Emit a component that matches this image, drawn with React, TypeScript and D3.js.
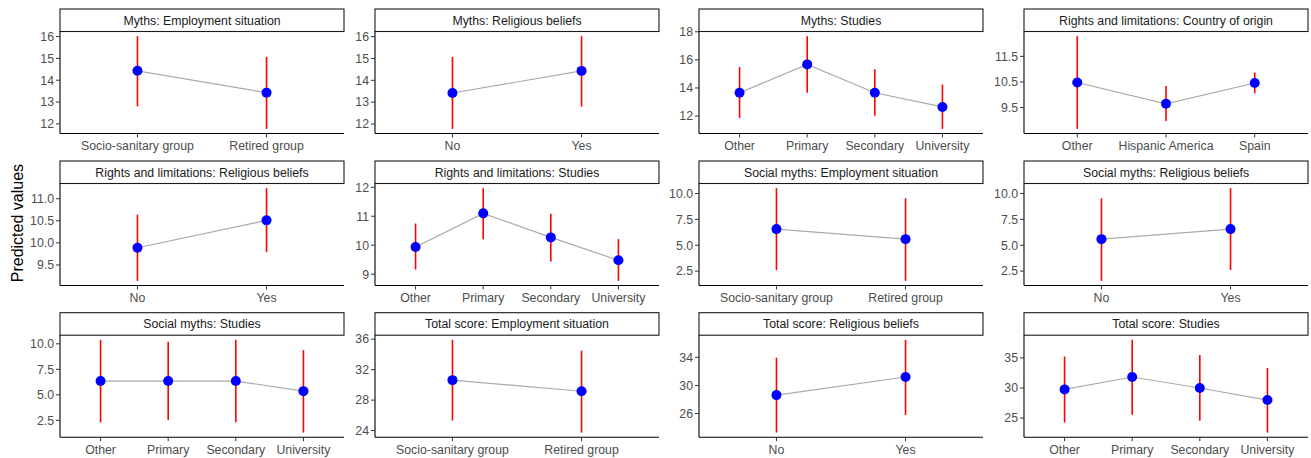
import React from 'react';
import * as d3 from 'd3';

// categories
const employmentCats = ['Socio-sanitary group', 'Retired group'];
const religiousCats = ['No', 'Yes'];
const studiesCats = ['Other', 'Primary', 'Secondary', 'University'];
const originCats = ['Other', 'Hispanic America', 'Spain'];

// predicted values with lower / upper limits
const mythsEmpFit = [14.43, 13.43];
const mythsEmpLow = [12.80, 11.77];
const mythsEmpHigh = [16.02, 15.07];

const mythsRelFit = [13.42, 14.43];
const mythsRelLow = [11.78, 12.80];
const mythsRelHigh = [15.07, 16.02];

const mythsStuFit = [13.66, 15.68, 13.66, 12.65];
const mythsStuLow = [11.86, 13.66, 12.03, 11.09];
const mythsStuHigh = [15.48, 17.69, 15.34, 14.24];

const rightsOriFit = [10.48, 9.65, 10.46];
const rightsOriLow = [8.67, 8.98, 10.06];
const rightsOriHigh = [12.29, 10.34, 10.87];

const rightsRelFit = [9.89, 10.51];
const rightsRelLow = [9.14, 9.79];
const rightsRelHigh = [10.64, 11.24];

const rightsStuFit = [9.94, 11.10, 10.27, 9.48];
const rightsStuLow = [9.16, 10.21, 9.44, 8.77];
const rightsStuHigh = [10.75, 11.97, 11.09, 10.21];

const socialEmpFit = [6.56, 5.59];
const socialEmpLow = [2.60, 1.56];
const socialEmpHigh = [10.52, 9.54];

const socialRelFit = [5.59, 6.56];
const socialRelLow = [1.56, 2.60];
const socialRelHigh = [9.54, 10.52];

const socialStuFit = [6.35, 6.35, 6.35, 5.36];
const socialStuLow = [2.30, 2.54, 2.30, 1.30];
const socialStuHigh = [10.39, 10.20, 10.39, 9.38];

const totalEmpFit = [30.62, 29.16];
const totalEmpLow = [25.32, 23.74];
const totalEmpHigh = [35.91, 34.50];

const totalRelFit = [28.62, 31.20];
const totalRelLow = [23.29, 25.80];
const totalRelHigh = [33.96, 36.49];

const totalStuFit = [29.77, 31.83, 30.00, 28.00];
const totalStuLow = [24.27, 25.56, 24.55, 22.60];
const totalStuHigh = [35.22, 38.00, 35.50, 33.33];

// y tick labels per panel
const ticksMyths16 = [12, 13, 14, 15, 16];
const ticksMythsStu = [12, 14, 16, 18];
const ticksOrigin = [9.5, 10.5, 11.5];
const ticksRightsRel = [9.5, 10.0, 10.5, 11.0];
const ticksRightsStu = [9, 10, 11, 12];
const ticksSocial = [2.5, 5.0, 7.5, 10.0];
const ticksTotalEmp = [24, 28, 32, 36];
const ticksTotalRel = [26, 30, 34];
const ticksTotalStu = [25, 30, 35];

const panels = [
  { title: 'Myths: Employment situation', cats: employmentCats, fit: mythsEmpFit, low: mythsEmpLow, high: mythsEmpHigh, ticks: ticksMyths16, fmt: 'd' },
  { title: 'Myths: Religious beliefs', cats: religiousCats, fit: mythsRelFit, low: mythsRelLow, high: mythsRelHigh, ticks: ticksMyths16, fmt: 'd' },
  { title: 'Myths: Studies', cats: studiesCats, fit: mythsStuFit, low: mythsStuLow, high: mythsStuHigh, ticks: ticksMythsStu, fmt: 'd' },
  { title: 'Rights and limitations: Country of origin', cats: originCats, fit: rightsOriFit, low: rightsOriLow, high: rightsOriHigh, ticks: ticksOrigin, fmt: '.1f' },
  { title: 'Rights and limitations: Religious beliefs', cats: religiousCats, fit: rightsRelFit, low: rightsRelLow, high: rightsRelHigh, ticks: ticksRightsRel, fmt: '.1f' },
  { title: 'Rights and limitations: Studies', cats: studiesCats, fit: rightsStuFit, low: rightsStuLow, high: rightsStuHigh, ticks: ticksRightsStu, fmt: 'd' },
  { title: 'Social myths: Employment situation', cats: employmentCats, fit: socialEmpFit, low: socialEmpLow, high: socialEmpHigh, ticks: ticksSocial, fmt: '.1f' },
  { title: 'Social myths: Religious beliefs', cats: religiousCats, fit: socialRelFit, low: socialRelLow, high: socialRelHigh, ticks: ticksSocial, fmt: '.1f' },
  { title: 'Social myths: Studies', cats: studiesCats, fit: socialStuFit, low: socialStuLow, high: socialStuHigh, ticks: ticksSocial, fmt: '.1f' },
  { title: 'Total score: Employment situation', cats: employmentCats, fit: totalEmpFit, low: totalEmpLow, high: totalEmpHigh, ticks: ticksTotalEmp, fmt: 'd' },
  { title: 'Total score: Religious beliefs', cats: religiousCats, fit: totalRelFit, low: totalRelLow, high: totalRelHigh, ticks: ticksTotalRel, fmt: 'd' },
  { title: 'Total score: Studies', cats: studiesCats, fit: totalStuFit, low: totalStuLow, high: totalStuHigh, ticks: ticksTotalStu, fmt: 'd' },
];

const width = 1311;
const height = 458;
const colLeft = [60, 375, 699, 1024];
const rowTop = [9, 161, 312.7];
const panelW = 284;
const stripH = 22.5;
const panelH = 102;
const font = '"Liberation Sans", Arial, sans-serif';

const Panel: React.FC<{ p: typeof panels[number]; left: number; top: number }> = ({ p, left, top }) => {
  const y0 = top + stripH;
  const lo = d3.min(p.low) as number;
  const hi = d3.max(p.high) as number;
  const pad = (hi - lo) * 0.05;
  const y = d3.scaleLinear().domain([lo - pad, hi + pad]).range([y0 + panelH, y0]);
  const x = d3.scalePoint<string>().domain(p.cats).range([left, left + panelW]).padding(0.6);
  const fmt = d3.format(p.fmt);
  const line = d3.line<number>().x((_, i) => x(p.cats[i]) as number).y(d => y(d));

  return (
    <g>
      <rect x={left} y={top} width={panelW} height={stripH} fill="white" stroke="#1a1a1a" strokeWidth={1.1} />
      <text x={left + panelW / 2} y={top + stripH / 2} dy="0.35em" textAnchor="middle" fontSize={12.3} fill="#1a1a1a">
        {p.title}
      </text>
      {/* axes */}
      <line x1={left} x2={left} y1={y0} y2={y0 + panelH} stroke="black" strokeWidth={1.1} />
      <line x1={left} x2={left + panelW} y1={y0 + panelH} y2={y0 + panelH} stroke="black" strokeWidth={1.1} />
      {p.ticks.map(t => (
        <g key={t}>
          <line x1={left - 4} x2={left} y1={y(t)} y2={y(t)} stroke="#333" strokeWidth={1} />
          <text x={left - 6} y={y(t)} dy="0.35em" textAnchor="end" fontSize={12.3} fill="#4d4d4d">{fmt(t)}</text>
        </g>
      ))}
      {p.cats.map(c => (
        <g key={c}>
          <line x1={x(c)} x2={x(c)} y1={y0 + panelH} y2={y0 + panelH + 4} stroke="#333" strokeWidth={1} />
          <text x={x(c)} y={y0 + panelH + 7} dy="0.8em" textAnchor="middle" fontSize={12.3} fill="#4d4d4d">{c}</text>
        </g>
      ))}
      {/* marks */}
      <path d={line(p.fit) as string} fill="none" stroke="#aaaaaa" strokeWidth={1.2} />
      {p.cats.map((c, i) => (
        <line key={'e' + c} x1={x(c)} x2={x(c)} y1={y(p.low[i])} y2={y(p.high[i])} stroke="#ff0000" strokeWidth={1.6} />
      ))}
      {p.cats.map((c, i) => (
        <circle key={'p' + c} cx={x(c)} cy={y(p.fit[i])} r={5} fill="#0000ff" />
      ))}
    </g>
  );
};

export default function App() {
  return (
    <svg width={width} height={height} style={{ position: 'absolute', left: 0, top: 0, background: 'white' }} fontFamily={font}>
      {panels.map((p, i) => (
        <Panel key={p.title} p={p} left={colLeft[i % 4]} top={rowTop[Math.floor(i / 4)]} />
      ))}
      <text transform={`translate(23,${(rowTop[0] + rowTop[2] + stripH + panelH) / 2}) rotate(-90)`} textAnchor="middle" fontSize={16} fill="black">
        Predicted values
      </text>
    </svg>
  );
}
